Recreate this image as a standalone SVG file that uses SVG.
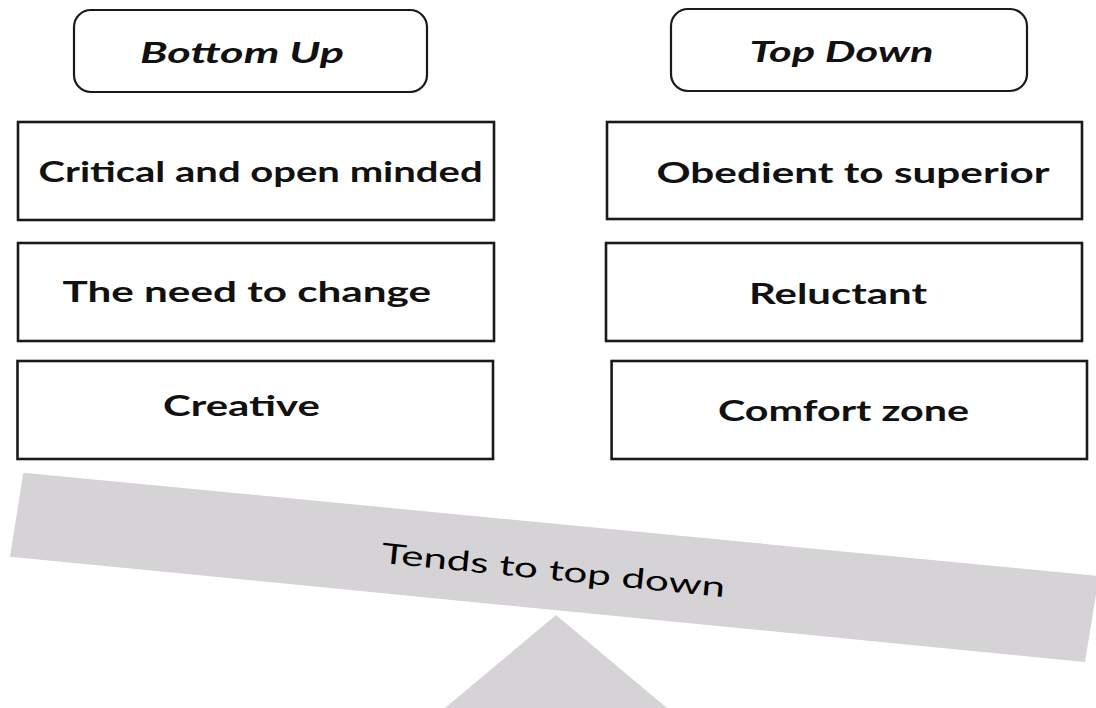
<svg xmlns="http://www.w3.org/2000/svg" width="1096" height="708" viewBox="0 0 1096 708">
<style>
.box{fill:#ffffff;stroke:#1a1a1a;stroke-width:2.6}
.hdr{fill:#ffffff;stroke:#1a1a1a;stroke-width:2.2}
.t{font-family:Lato,"Open Sans","Liberation Sans",sans-serif;font-weight:bold;font-size:28px;fill:#111111}
.ti{font-style:italic}
.gray{fill:#d5d3d5}
.bar{font-family:Lato,"Open Sans","Liberation Sans",sans-serif;font-size:28px;fill:#000000}
</style>
<rect width="1096" height="708" fill="#ffffff"/>
<g id="seesaw">
  <polygon class="gray" points="23.3,472.7 1099,576 1085,662 10,556.7"/>
  <polygon class="gray" points="556,615 667,708 445,708"/>
  <text class="bar" x="552.5" y="580" text-anchor="middle" textLength="345" lengthAdjust="spacingAndGlyphs" transform="rotate(5.7 552.5 580)">Tends to top down</text>
</g>
<g id="bottom-up">
  <rect class="hdr" x="74" y="10" width="353" height="82" rx="17" ry="17"/>
  <text class="t ti" x="140" y="63" textLength="204" lengthAdjust="spacingAndGlyphs">Bottom Up</text>
</g>
<g id="top-down">
  <rect class="hdr" x="671" y="9" width="356" height="82" rx="17" ry="17"/>
  <text class="t ti" x="749.5" y="62" textLength="184" lengthAdjust="spacingAndGlyphs">Top Down</text>
</g>
<g id="critical">
  <rect class="box" x="18" y="122" width="476" height="98"/>
  <text class="t" x="38.6" y="182" textLength="444" lengthAdjust="spacingAndGlyphs">Critical and open minded</text>
</g>
<g id="obedient">
  <rect class="box" x="607" y="122" width="475" height="97"/>
  <text class="t" x="656.5" y="183" textLength="393" lengthAdjust="spacingAndGlyphs">Obedient to superior</text>
</g>
<g id="need-change">
  <rect class="box" x="18" y="243" width="476" height="98"/>
  <text class="t" x="62.5" y="302" textLength="368.5" lengthAdjust="spacingAndGlyphs">The need to change</text>
</g>
<g id="reluctant">
  <rect class="box" x="606" y="243" width="476" height="98"/>
  <text class="t" x="749" y="304" textLength="178" lengthAdjust="spacingAndGlyphs">Reluctant</text>
</g>
<g id="creative">
  <rect class="box" x="17.5" y="361" width="475.5" height="98"/>
  <text class="t" x="163" y="416" textLength="157" lengthAdjust="spacingAndGlyphs">Creative</text>
</g>
<g id="comfort-zone">
  <rect class="box" x="611.6" y="361" width="475.4" height="98"/>
  <text class="t" x="718" y="421" textLength="251" lengthAdjust="spacingAndGlyphs">Comfort zone</text>
</g>
<g id="connectors"></g>
</svg>
